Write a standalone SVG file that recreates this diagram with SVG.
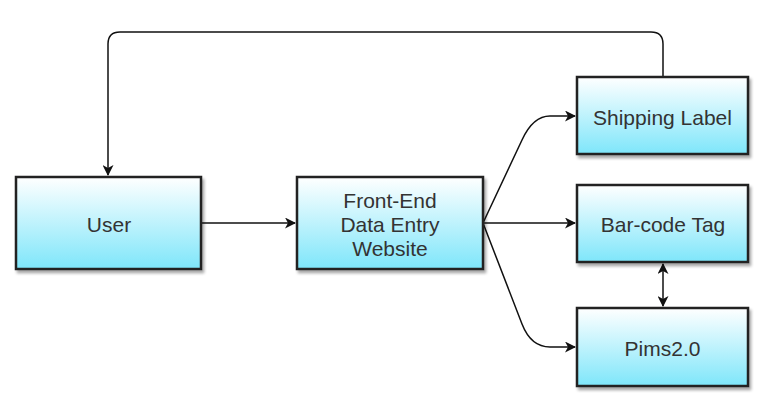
<svg xmlns="http://www.w3.org/2000/svg" width="764" height="404" viewBox="0 0 764 404">
<defs>
<linearGradient id="g" x1="0" y1="0" x2="0" y2="1">
<stop offset="0" stop-color="#ffffff"/>
<stop offset="1" stop-color="#7ee6fa"/>
</linearGradient>
<filter id="sh" x="-10%" y="-10%" width="130%" height="130%">
<feGaussianBlur in="SourceAlpha" stdDeviation="1.5"/>
<feOffset dx="2" dy="3" result="b"/>
<feComponentTransfer><feFuncA type="linear" slope="0.35"/></feComponentTransfer>
<feMerge><feMergeNode/><feMergeNode in="SourceGraphic"/></feMerge>
</filter>
<marker id="ah" markerWidth="11" markerHeight="11" refX="10" refY="5.5" orient="auto-start-reverse" markerUnits="userSpaceOnUse">
<path d="M0,0 L11,5.5 L0,11 L3,5.5 Z" fill="#111"/>
</marker>
</defs>
<style>
.box{fill:url(#g);stroke:#222;stroke-width:2.5;filter:url(#sh)}
.t{font-family:"Liberation Sans",Arial,sans-serif;font-size:21px;fill:#333;text-anchor:middle}
.c{fill:none;stroke:#111;stroke-width:1.5}
</style>
<g id="connectors">
<path class="c" d="M663,77 L663,44 Q663,32 651,32 L120,32 Q108,32 108,44 L108,175" marker-end="url(#ah)"/>
<path class="c" d="M201,223 L295,223" marker-end="url(#ah)"/>
<path class="c" d="M483,223 L522,140 Q533,116 550,116 L575,116" marker-end="url(#ah)"/>
<path class="c" d="M483,223 L575,223" marker-end="url(#ah)"/>
<path class="c" d="M483,223 L522,324 Q531,347 550,347 L575,347" marker-end="url(#ah)"/>
<path class="c" d="M663,264 L663,306" marker-start="url(#ah)" marker-end="url(#ah)"/>
</g>
<g id="user">
<rect class="box" x="16" y="177" width="185" height="92"/>
<text class="t" x="109" y="232">User</text>
</g>
<g id="frontend">
<rect class="box" x="297" y="177" width="186" height="92"/>
<text class="t" x="390" y="208">Front-End</text>
<text class="t" x="390" y="232">Data Entry</text>
<text class="t" x="390" y="256">Website</text>
</g>
<g id="shipping">
<rect class="box" x="577" y="77" width="171" height="77"/>
<text class="t" x="662.5" y="125">Shipping Label</text>
</g>
<g id="barcode">
<rect class="box" x="577" y="185" width="171" height="77"/>
<text class="t" x="663" y="232">Bar-code Tag</text>
</g>
<g id="pims">
<rect class="box" x="577" y="308" width="171" height="78"/>
<text class="t" x="662.5" y="356">Pims2.0</text>
</g>
</svg>
